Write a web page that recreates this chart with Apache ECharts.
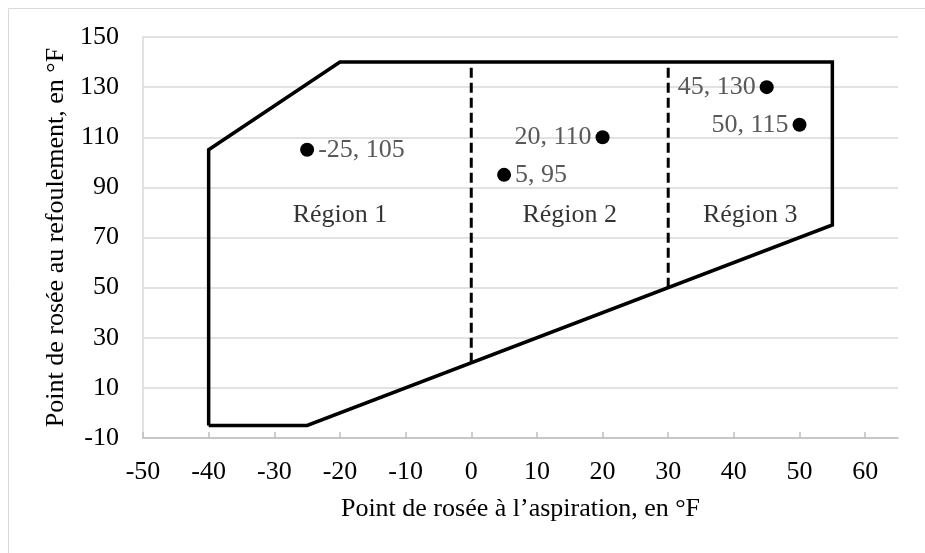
<!DOCTYPE html>
<html>
<head>
<meta charset="utf-8">
<title>Point de rosée</title>
<script src="https://cdn.jsdelivr.net/npm/echarts@6/dist/echarts.min.js"></script>
<style>
	html, body { margin: 0; padding: 0; background: #fff; }
	#chart { width: 925px; height: 553px; }
</style>
</head>
<body>
<div id="chart"></div>
<script>
// contour de l'enveloppe (x = aspiration, y = refoulement)
const envelope = [[-40, -5], [-40, 105], [-20, 140], [55, 140], [55, 75], [-25, -5], [-40, -5]]
// séparations des régions (pointillés)
const divider1 = [[0, 20], [0, 140]]
const divider2 = [[30, 50], [30, 140]]
// points mesurés
const points = [[-25, 105], [5, 95], [20, 110], [45, 130], [50, 115]]
// étiquettes des régions
const regionNames = ['Région 1', 'Région 2', 'Région 3']
const regionX = [-20, 15, 42.5]
const regionY = [79, 79, 79]
// graduations
const xTicks = [-50, -40, -30, -20, -10, 0, 10, 20, 30, 40, 50, 60]

const font = '"Liberation Serif", "Times New Roman", serif'
const fs = 26
const labelSide = ['right', 'right', 'left', 'left', 'left']

const chart = echarts.init(document.getElementById('chart'))

const option = {
	animation: false,
	backgroundColor: '#fff',
	textStyle: { fontFamily: font },
	graphic: [{
		type: 'rect',
		shape: { x: 8.5, y: 8.5, width: 940, height: 560 },
		style: { fill: 'none', stroke: '#d9d9d9', lineWidth: 1 },
		silent: true
	}],
	grid: { left: 143, right: 27, top: 37, bottom: 115 },
	xAxis: {
		type: 'value',
		min: -50,
		max: 65,
		interval: 10,
		name: 'Point de rosée à l’aspiration, en °F',
		nameLocation: 'middle',
		nameGap: 58,
		nameTextStyle: { fontFamily: font, fontSize: fs, color: '#000' },
		axisLine: { show: true, onZero: false, lineStyle: { color: '#bfbfbf', width: 1.5 } },
		axisTick: { show: true, inside: true, length: 6, customValues: xTicks, lineStyle: { color: '#bfbfbf', width: 1.5 } },
		axisLabel: { customValues: xTicks, margin: 21, fontFamily: font, fontSize: fs, color: '#000' },
		splitLine: { show: false }
	},
	yAxis: {
		type: 'value',
		min: -10,
		max: 150,
		interval: 20,
		name: 'Point de rosée au refoulement, en °F',
		nameLocation: 'middle',
		nameGap: 72,
		nameTextStyle: { fontFamily: font, fontSize: fs, color: '#000' },
		axisLine: { show: true, onZero: false, lineStyle: { color: '#d9d9d9', width: 1.5 } },
		axisTick: { show: false },
		axisLabel: { margin: 24, fontFamily: font, fontSize: fs, color: '#000' },
		splitLine: { show: true, lineStyle: { color: '#d9d9d9', width: 1.5 } }
	},
	series: [
		{
			name: 'enveloppe',
			type: 'line',
			data: envelope,
			symbol: 'none',
			lineStyle: { color: '#000', width: 3.5, join: 'miter' },
			z: 3
		},
		{
			type: 'line',
			data: divider1,
			symbol: 'none',
			lineStyle: { color: '#000', width: 3, type: [10, 5] },
			z: 3
		},
		{
			type: 'line',
			data: divider2,
			symbol: 'none',
			lineStyle: { color: '#000', width: 3, type: [10, 5] },
			z: 3
		},
		{
			name: 'points',
			type: 'scatter',
			symbol: 'circle',
			symbolSize: 14,
			itemStyle: { color: '#000', opacity: 1 },
			data: points.map((p, i) => ({
				value: p,
				label: {
					show: true,
					position: labelSide[i],
					distance: 4,
					formatter: p[0] + ', ' + p[1],
					fontFamily: font,
					fontSize: fs,
					color: '#595959'
				}
			})),
			z: 5
		},
		{
			name: 'régions',
			type: 'scatter',
			symbol: 'circle',
			symbolSize: 1,
			itemStyle: { color: 'rgba(0,0,0,0)' },
			data: regionNames.map((n, i) => ({
				value: [regionX[i], regionY[i]],
				label: {
					show: true,
					position: 'inside',
					formatter: n,
					fontFamily: font,
					fontSize: fs,
					color: '#000'
				}
			})),
			z: 4
		}
	]
}

option && chart.setOption(option)
</script>
</body>
</html>
